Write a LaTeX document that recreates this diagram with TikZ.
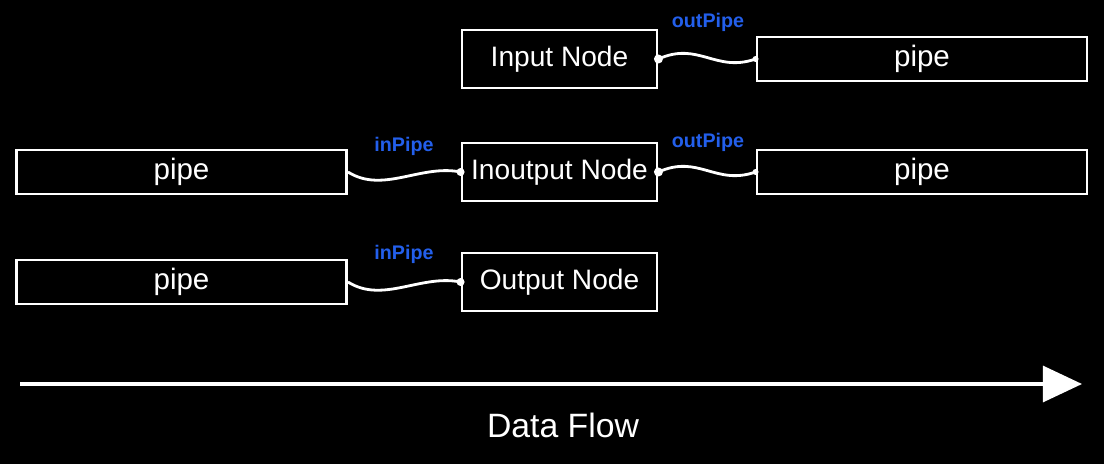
\documentclass[tikz,border=0pt]{standalone}
\usepackage{fontspec}
\setmainfont{Liberation Sans}
\usetikzlibrary{arrows.meta}
\definecolor{pipeblue}{RGB}{35,95,235}
\tikzstyle{nodebox} = [
    rectangle,
    minimum width=4.875cm,
    minimum height=1.45cm,
    inner sep=0pt,
    draw=white,
    line width=2pt,
    text=white,
    font=\fontsize{20}{24}\selectfont
]
\tikzstyle{pipebox} = [
    rectangle,
    minimum width=8.25cm,
    minimum height=1.1cm,
    inner sep=0pt,
    draw=white,
    line width=2pt,
    text=white,
    font=\fontsize{21}{24}\selectfont
]
\tikzstyle{pipelabel} = [
    text=pipeblue,
    font=\fontsize{14}{16}\selectfont\bfseries
]
\tikzstyle{wire} = [white, line width=2pt]
\tikzstyle{bigdot} = [white, fill=white]
\tikzstyle{flow} = [white, line width=2.5pt, -{Triangle[length=0.98cm,width=0.9cm]}]

\begin{document}
\begin{tikzpicture}[x=0.025cm, y=-0.025cm]

\fill[black] (0,0) rectangle (1104,464);

\node (input) [nodebox] at (559.5,59) {Input Node};
\node (pipe1) [pipebox] at (922,59) {pipe};

\node (pipe2) [pipebox] at (181.5,172) {pipe};
\node (inout) [nodebox] at (559.5,172) {Inoutput Node};
\node (pipe3) [pipebox] at (922,172) {pipe};

\node (pipe4) [pipebox] at (181.5,282) {pipe};
\node (output) [nodebox] at (559.5,282) {Output Node};

\node (lbl1) [pipelabel] at (708,22) {outPipe};
\node (lbl2) [pipelabel] at (708,142) {outPipe};
\node (lbl3) [pipelabel] at (404,146) {inPipe};
\node (lbl4) [pipelabel] at (404,254) {inPipe};

\draw [wire] (input.east) .. controls +(40,-18) and +(-40,14) .. (pipe1.west);
\draw [wire] (inout.east) .. controls +(40,-18) and +(-40,14) .. (pipe3.west);
\draw [wire] (pipe2.east) .. controls +(35,22) and +(-40,-8) .. (inout.west);
\draw [wire] (pipe4.east) .. controls +(35,22) and +(-40,-8) .. (output.west);

\fill [bigdot] (input.east) circle (4.5);
\fill [bigdot] (pipe1.west) circle (3);
\fill [bigdot] (inout.east) circle (4.5);
\fill [bigdot] (pipe3.west) circle (3);
\fill [bigdot] (inout.west) circle (4);
\fill [bigdot] (output.west) circle (4);

\coordinate (flowstart) at (20,384);
\coordinate (flowend) at (1082,384);
\draw [flow] (flowstart) -- (flowend);

\node (flowtext) [text=white, font=\fontsize{24}{28}\selectfont] at (563,425) {Data Flow};

\end{tikzpicture}
\end{document}
